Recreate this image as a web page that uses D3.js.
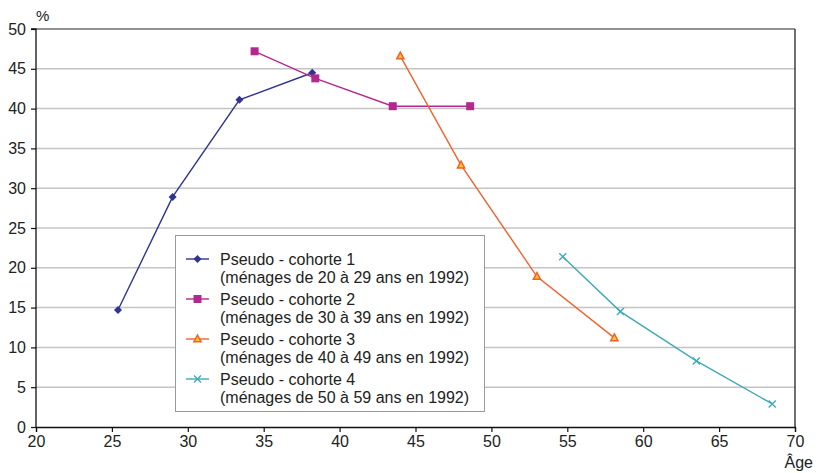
<!DOCTYPE html>
<html>
<head>
<meta charset="utf-8">
<script src="https://cdn.jsdelivr.net/npm/d3@7/dist/d3.min.js"></script>
<style>
  body { margin: 0; background: #fff; }
  svg text { font-family: "Liberation Sans", Arial, sans-serif; fill: #222; }
</style>
</head>
<body>
<svg id="chart" width="820" height="473"></svg>
<script>
// Share of households (%) by age, for four pseudo-cohorts
const cohortNames = [
  ["Pseudo - cohorte 1", "(ménages de 20 à 29 ans en 1992)"],
  ["Pseudo - cohorte 2", "(ménages de 30 à 39 ans en 1992)"],
  ["Pseudo - cohorte 3", "(ménages de 40 à 49 ans en 1992)"],
  ["Pseudo - cohorte 4", "(ménages de 50 à 59 ans en 1992)"]
];
const cohort1Age = [25.4, 29.0, 33.4, 38.2];
const cohort1Val = [14.7, 28.9, 41.1, 44.5];
const cohort2Age = [34.4, 38.4, 43.5, 48.6];
const cohort2Val = [47.2, 43.8, 40.3, 40.3];
const cohort3Age = [44.0, 48.0, 53.0, 58.1];
const cohort3Val = [46.6, 32.9, 18.9, 11.2];
const cohort4Age = [54.7, 58.5, 63.5, 68.5];
const cohort4Val = [21.4, 14.5, 8.3, 2.9];
const xTicks = [20, 25, 30, 35, 40, 45, 50, 55, 60, 65, 70];
const yTicks = [0, 5, 10, 15, 20, 25, 30, 35, 40, 45, 50];

const series = [
  { age: cohort1Age, val: cohort1Val, color: "#2f3393", marker: "diamond" },
  { age: cohort2Age, val: cohort2Val, color: "#b3288f", marker: "square" },
  { age: cohort3Age, val: cohort3Val, color: "#f5602a", marker: "triangle" },
  { age: cohort4Age, val: cohort4Val, color: "#3eaab6", marker: "cross" }
];

const svg = d3.select("#chart");
const plotLeft = 36, plotRight = 795, plotTop = 29, plotBottom = 427;

const x = d3.scaleLinear().domain([20, 70]).range([plotLeft, plotRight]);
const y = d3.scaleLinear().domain([0, 50]).range([plotBottom, plotTop]);

// horizontal gridlines
svg.append("g").selectAll("line").data(yTicks.filter(d => d > 0 && d < 50)).join("line")
  .attr("x1", plotLeft).attr("x2", plotRight)
  .attr("y1", d => y(d)).attr("y2", d => y(d))
  .attr("stroke", "#c4c4c4").attr("stroke-width", 1.5);

// plot frame: top grey, right black
svg.append("line").attr("x1", plotLeft).attr("x2", plotRight).attr("y1", plotTop).attr("y2", plotTop)
  .attr("stroke", "#6e6e6e").attr("stroke-width", 1.6);
svg.append("line").attr("x1", plotRight).attr("x2", plotRight).attr("y1", plotTop).attr("y2", plotBottom)
  .attr("stroke", "#222").attr("stroke-width", 1.3);

// axes
const xAxis = svg.append("g").attr("transform", `translate(0,${plotBottom})`)
  .call(d3.axisBottom(x).tickValues(xTicks).tickSize(5).tickPadding(4).tickFormat(d3.format("d")));
const yAxis = svg.append("g").attr("transform", `translate(${plotLeft},0)`)
  .call(d3.axisLeft(y).tickValues(yTicks).tickSize(5).tickPadding(5).tickFormat(d3.format("d")));
[xAxis, yAxis].forEach(a => {
  a.select(".domain").attr("stroke", "#111").attr("stroke-width", 1.3);
  a.selectAll(".tick line").attr("stroke", "#111").attr("stroke-width", 1.2);
  a.selectAll(".tick text").attr("font-size", 16).attr("fill", "#222")
    .style("font-family", "Liberation Sans, Arial, sans-serif");
});
yAxis.select(".domain").attr("d", `M-5,${plotTop}H0V${plotBottom}`);

svg.append("text").attr("x", 36).attr("y", 21).attr("font-size", 15).text("%");
svg.append("text").attr("x", 813).attr("y", 468).attr("text-anchor", "end")
  .attr("font-size", 16).text("Âge");

// markers
function drawMarker(g, type, color, cx, cy) {
  if (type === "diamond") {
    g.append("path").attr("d", `M${cx},${cy - 4}L${cx + 4},${cy}L${cx},${cy + 4}L${cx - 4},${cy}Z`)
      .attr("fill", color);
  } else if (type === "square") {
    g.append("rect").attr("x", cx - 4).attr("y", cy - 4).attr("width", 8).attr("height", 8)
      .attr("fill", color);
  } else if (type === "triangle") {
    g.append("path").attr("d", `M${cx},${cy - 4}L${cx + 3.6},${cy + 2.8}L${cx - 3.6},${cy + 2.8}Z`)
      .attr("fill", "#ffcc22").attr("stroke", color).attr("stroke-width", 1.5)
      .attr("stroke-linejoin", "miter");
  } else {
    g.append("path").attr("d", `M${cx - 3.5},${cy - 3.5}L${cx + 3.5},${cy + 3.5}M${cx - 3.5},${cy + 3.5}L${cx + 3.5},${cy - 3.5}`)
      .attr("stroke", color).attr("stroke-width", 1.4);
  }
}

const line = d3.line().x(d => x(d[0])).y(d => y(d[1]));
series.forEach(s => {
  const pts = s.age.map((a, i) => [a, s.val[i]]);
  const g = svg.append("g");
  g.append("path").attr("d", line(pts)).attr("fill", "none")
    .attr("stroke", s.color).attr("stroke-width", 1.4);
  pts.forEach(p => drawMarker(g, s.marker, s.color, x(p[0]), y(p[1])));
});

// legend
const lg = svg.append("g");
lg.append("rect").attr("x", 175.5).attr("y", 235.5).attr("width", 309).attr("height", 176)
  .attr("fill", "#fff").attr("stroke", "#9a9a9a").attr("stroke-width", 1);
series.forEach((s, i) => {
  const cy = 259 + i * 40;
  lg.append("line").attr("x1", 186).attr("x2", 209).attr("y1", cy).attr("y2", cy)
    .attr("stroke", s.color).attr("stroke-width", 1.4);
  drawMarker(lg, s.marker, s.color, 197.5, cy);
  lg.append("text").attr("x", 220).attr("y", cy + 5.5).attr("font-size", 16).text(cohortNames[i][0]);
  lg.append("text").attr("x", 220).attr("y", cy + 23.5).attr("font-size", 16).text(cohortNames[i][1]);
});
</script>
</body>
</html>
